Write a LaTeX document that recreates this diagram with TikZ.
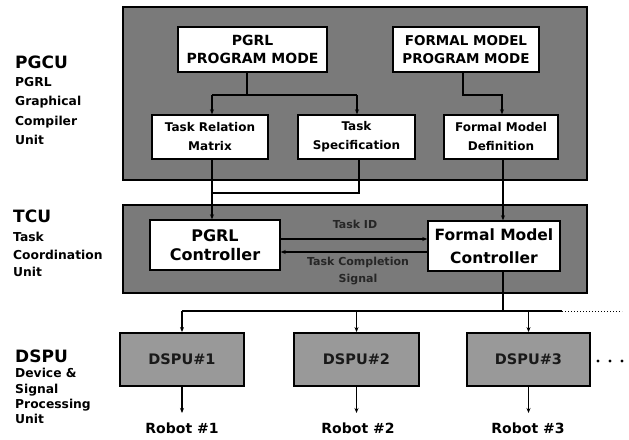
\documentclass[tikz,border=0pt]{standalone}
\usepackage{fontspec}
\setmainfont{DejaVu Sans}
\usetikzlibrary{arrows.meta}
\newcommand{\fsz}[2]{\fontsize{#1}{#2}\selectfont\bfseries}
\begin{document}
\begin{tikzpicture}[x=1pt,y=-1pt,
  unitbox/.style={draw=black, line width=2.2pt, fill=black!52, inner sep=0pt},
  whitebox/.style={draw=black, line width=1.4pt, fill=white, inner sep=0pt, align=center},
  dspubox/.style={draw=black, line width=1.8pt, fill=black!40, inner sep=0pt,
                  minimum height=53, font=\fsz{14.5}{16}, text=black!90},
  conn/.style={line width=1.1pt},
  arr/.style={conn, -{Stealth[length=5pt,width=4pt]}},
  headlbl/.style={anchor=base west, inner sep=0pt, font=\fsz{17}{20}},
  sublbl/.style={anchor=base west, inner sep=0pt, font=\fsz{12.3}{14}},
  sigtext/.style={inner sep=0pt, align=center, text=black!85, font=\fsz{11}{17}},
  robot/.style={inner sep=0pt, font=\fsz{14}{16}}]

\useasboundingbox (0,0) rectangle (629,439);
\fill[white] (0,0) rectangle (629,439);

% ---- Graphical compiler unit ----
\node[unitbox, minimum width=464, minimum height=173] (pgcu) at (355,93.5) {};
\node[whitebox, minimum width=149, minimum height=45, font=\fsz{14}{18}] (pgrlmode) at (252.5,49.5) {PGRL\\PROGRAM MODE};
\node[whitebox, minimum width=146, minimum height=45, font=\fsz{13.5}{18}] (fmmode) at (466,49.5) {FORMAL MODEL\\PROGRAM MODE};
\node[whitebox, minimum width=116, minimum height=44, font=\fsz{12}{19}] (trm) at (210,137) {Task Relation\\Matrix};
\node[whitebox, minimum width=117, minimum height=44, font=\fsz{12}{19}] (tspec) at (356.5,137) {Task\\Specification};
\node[whitebox, minimum width=114, minimum height=44, font=\fsz{12}{19}] (fmd) at (501,137) {Formal Model\\Definition};

% ---- Task coordination unit ----
\node[unitbox, minimum width=464, minimum height=88] (tcu) at (355,249) {};
\node[whitebox, minimum width=130, minimum height=50, font=\fsz{16}{19}] (pgrlc) at (215,245) {PGRL\\Controller};
\node[whitebox, minimum width=132, minimum height=50, font=\fsz{15.5}{23}] (fmc) at (494,246) {Formal Model\\Controller};
\node[sigtext] (tidlbl) at (355,224) {Task ID};
\node[sigtext] (tcslbl) at (358,271) {Task Completion\\Signal};

% ---- Device & signal processing units ----
\node[dspubox, minimum width=124] (d1) at (182,359.5) {DSPU\#1};
\node[dspubox, minimum width=125] (d2) at (356.5,359.5) {DSPU\#2};
\node[dspubox, minimum width=123] (d3) at (528.5,359.5) {DSPU\#3};
\node[robot] (r1) at (182,428) {Robot \#1};
\node[robot] (r2) at (358,428) {Robot \#2};
\node[robot] (r3) at (528,428) {Robot \#3};

% ---- left-hand captions ----
\node[headlbl] (cap1) at (15,68) {PGCU};
\node[sublbl] (cap1a) at (15,86) {PGRL};
\node[sublbl] (cap1b) at (15,105.5) {Graphical};
\node[sublbl] (cap1c) at (15,125) {Compiler};
\node[sublbl] (cap1d) at (15,144) {Unit};
\node[headlbl] (cap2) at (13,222) {TCU};
\node[sublbl] (cap2a) at (13,241) {Task};
\node[sublbl] (cap2b) at (13,259) {Coordination};
\node[sublbl] (cap2c) at (13,276) {Unit};
\node[headlbl] (cap3) at (15,362) {DSPU};
\node[sublbl] (cap3a) at (15,377.5) {Device \&};
\node[sublbl] (cap3b) at (15,393) {Signal};
\node[sublbl] (cap3c) at (15,408.5) {Processing};
\node[sublbl] (cap3d) at (15,423.5) {Unit};

% ---- connectors inside the compiler unit ----
\coordinate (jm) at (247,95);
\coordinate (jl) at (212,95);
\coordinate (jr) at (357,95);
\draw[conn] (pgrlmode.south -| jm) -- (jm);
\draw[conn] (jl) -- (jr);
\draw[arr] (jl) -- (jl |- trm.north);
\draw[arr] (jr) -- (jr |- tspec.north);
\coordinate (fk) at (463,95);
\coordinate (fl) at (502,95);
\draw[arr] (fmmode.south -| fk) -- (fk) -- (fl) -- (fl |- fmd.north);

% ---- compiler unit to coordination unit ----
\coordinate (tsj) at (359,193);
\draw[arr] (trm.south -| jl) -- (jl |- pgrlc.north);
\draw[conn] (tspec.south -| tsj) -- (tsj) -- (tsj -| jl);
\coordinate (bus) at (503,311);
\draw[arr] (fmd.south -| bus) -- (bus |- fmc.north);

% ---- signals between the controllers ----
\coordinate (tid) at (0,239);
\coordinate (tcs) at (0,252);
\draw[arr] (pgrlc.east |- tid) -- (fmc.west |- tid);
\draw[arr] (fmc.west |- tcs) -- (pgrlc.east |- tcs);

% ---- distribution bus ----
\coordinate (busL) at (182,311);
\coordinate (busR) at (562,311);
\coordinate (busE) at (622,311);
\draw[conn] (fmc.south -| bus) -- (bus);
\draw[conn] (busL) -- (busR);
\draw[line width=1pt, dotted] (busR) -- (busE);
\draw[arr] (busL) -- (d1.north);
\draw[arr] (d2.north |- busL) -- (d2.north);
\draw[arr] (d3.north |- busL) -- (d3.north);

% ---- outputs to the robots ----
\coordinate (rb) at (0,413);
\draw[arr] (d1.south) -- (d1.south |- rb);
\draw[arr] (d2.south) -- (d2.south |- rb);
\draw[arr] (d3.south) -- (d3.south |- rb);

% ---- continuation dots ----
\foreach \dx in {598,610,622} \fill (\dx,361) circle (1.6);
\end{tikzpicture}
\end{document}
